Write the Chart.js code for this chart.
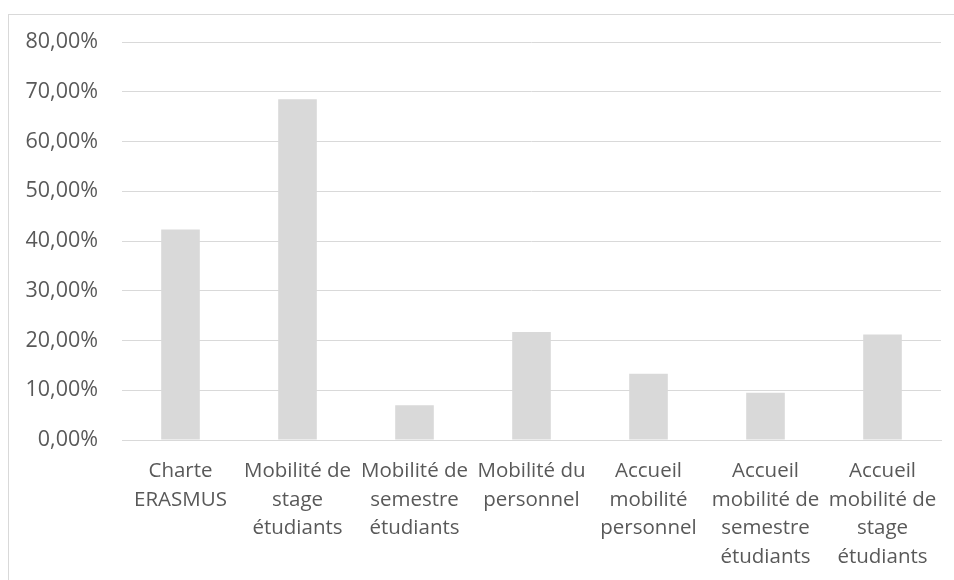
<!DOCTYPE html>
<html>
<head>
<meta charset="utf-8">
<script src="https://cdn.jsdelivr.net/npm/chart.js@4.4.1/dist/chart.umd.min.js"></script>
<style>
  html, body { margin: 0; padding: 0; background: #fff; }
  #wrap { position: relative; width: 954px; height: 580px; overflow: hidden; }
  #frame { position: absolute; left: 8px; top: 14px; width: 1000px; height: 700px; border: 1px solid #d9d9d9; }
  #chart { position: absolute; left: 0; top: 0; }
</style>
</head>
<body>
<div id="wrap">
  <div id="frame"></div>
  <canvas id="chart" width="954" height="580"></canvas>
</div>
<script>
// categories (line breaks as in the original)
const categories = [
    ["Charte", "ERASMUS"],
    ["Mobilité de", "stage", "étudiants"],
    ["Mobilité de", "semestre", "étudiants"],
    ["Mobilité du", "personnel"],
    ["Accueil", "mobilité", "personnel"],
    ["Accueil", "mobilité de", "semestre", "étudiants"],
    ["Accueil", "mobilité de", "stage", "étudiants"]
];
// percentages
const values = [42.3, 68.5, 7.0, 21.7, 13.3, 9.5, 21.2];
const yMin = 0;
const yMax = 80;
const yStep = 10;

const textColor = "#595959";
const fontFamily = "'Open Sans', 'Noto Sans', sans-serif";

const formatPct = (v) => v.toFixed(2).replace(".", ",") + "%";

let data = {
    labels: categories,
    datasets: [{
        data: values,
        backgroundColor: "#d9d9d9",
        borderWidth: 0,
        categoryPercentage: 1,
        barPercentage: 0.33
    }]
};

let options = {
    responsive: false,
    animation: false,
    layout: {
        padding: { top: 42, right: 13, left: 0, bottom: 0 }
    },
    plugins: {
        legend: { display: false },
        tooltip: { enabled: false }
    },
    scales: {
        y: {
            min: yMin,
            max: yMax,
            ticks: {
                stepSize: yStep,
                color: textColor,
                font: { family: fontFamily, size: 21.5 },
                padding: 24,
                callback: (v) => formatPct(v)
            },
            grid: {
                color: "#d9d9d9",
                lineWidth: 1,
                drawTicks: false
            },
            border: { display: false },
            afterFit: (scale) => { scale.width = 122; }
        },
        x: {
            ticks: {
                color: textColor,
                font: { family: fontFamily, size: 20.5, lineHeight: "28.5px" },
                padding: 9,
                maxRotation: 0,
                autoSkip: false
            },
            grid: { display: false },
            border: { display: true, color: "#d9d9d9", width: 1 },
            afterFit: (scale) => { scale.height = 140; }
        }
    }
};

new Chart("chart", {
    type: "bar",
    data: data,
    options: options
});
</script>
</body>
</html>
